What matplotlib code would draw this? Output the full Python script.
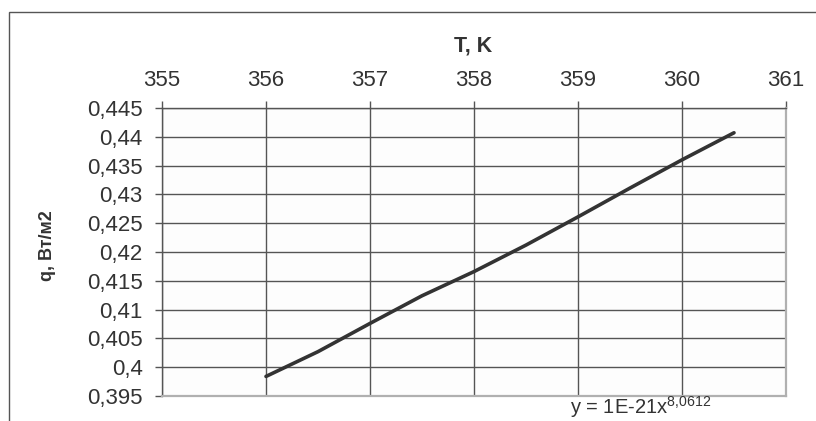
import numpy as np
import matplotlib.pyplot as plt
from matplotlib.ticker import FuncFormatter, MultipleLocator
from matplotlib.patches import Rectangle

plt.rcParams['font.family'] = ['Liberation Sans', 'DejaVu Sans']
plt.rcParams['mathtext.fontset'] = 'custom'
plt.rcParams['mathtext.rm'] = 'Liberation Sans'
plt.rcParams['mathtext.it'] = 'Liberation Sans'
plt.rcParams['mathtext.default'] = 'regular'

# temperature, K
T = [356.0, 356.5, 357.0, 357.5, 358.0, 358.5, 359.0, 359.5, 360.0, 360.5]
# heat flux, W/m2
q = [0.3984, 0.4027, 0.4076, 0.4124, 0.4166, 0.4212, 0.4261, 0.4311, 0.4360, 0.4407]

x_label = 'T, K'
y_label = 'q, Вт/м2'
trend_text = r'y = 1E-21x$^{8{,}0612}$'

txt = '#333333'
grid_c = '#555555'

fig = plt.figure(figsize=(8.16, 4.21), dpi=100)
ax = fig.add_axes([162/816, 1-396/421, (786-162)/816, (396-108)/421])
ax.set_facecolor('#fdfdfd')

ax.plot(T, q, color='#333333', lw=2.6, solid_capstyle='round', zorder=3)

ax.set_xlim(355, 361)
ax.set_ylim(0.395, 0.445)
ax.xaxis.set_major_locator(MultipleLocator(1))
ax.yaxis.set_major_locator(MultipleLocator(0.005))
ax.yaxis.set_major_formatter(FuncFormatter(
    lambda v, p: f"{v:.3f}".rstrip('0').rstrip('.').replace('.', ',')))
ax.xaxis.set_major_formatter(FuncFormatter(lambda v, p: f"{v:.0f}"))

ax.xaxis.tick_top()
ax.tick_params(axis='x', direction='out', length=5, width=1, color=grid_c,
               pad=7, labelsize=16, labelcolor=txt)
ax.tick_params(axis='y', direction='out', length=5, width=1, color=grid_c,
               pad=9, labelsize=16, labelcolor=txt)

ax.grid(True, color=grid_c, lw=1)
ax.set_axisbelow(True)
for s in ['left', 'top']:
    ax.spines[s].set_color(grid_c)
    ax.spines[s].set_linewidth(1)
for s in ['right', 'bottom']:
    ax.spines[s].set_color('#b0b0b0')
    ax.spines[s].set_linewidth(1.6)

fig.text(473/816, 1-46/421, x_label, ha='center', va='center',
         fontsize=15.5, fontweight='bold', color=txt)
fig.text(48/816, 1-246/421, y_label, ha='center', va='center', rotation=90,
         fontsize=13, fontweight='bold', color=txt)
fig.text(641/816, 1-407/421, trend_text, ha='center', va='center',
         fontsize=14.5, color=txt)

# outer chart frame
fig.patches.append(Rectangle((9/816, -0.1), 2, 1.1 - 12/421,
                             transform=fig.transFigure, fill=False,
                             edgecolor='#555555', lw=1))

fig.savefig('out.png', dpi=100)
